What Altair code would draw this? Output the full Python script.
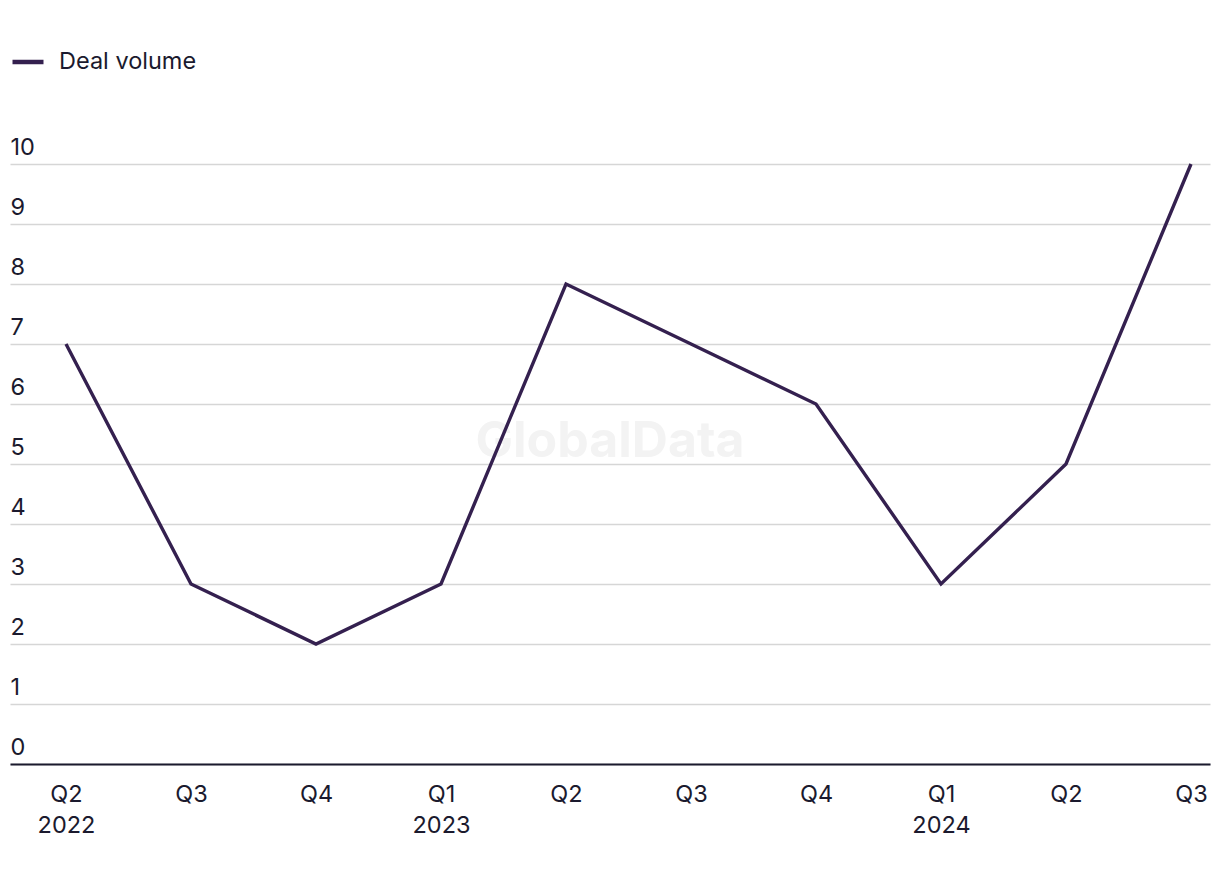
import json
import altair as alt
import pandas as pd

periods = ["2022Q2", "2022Q3", "2022Q4", "2023Q1", "2023Q2",
           "2023Q3", "2023Q4", "2024Q1", "2024Q2", "2024Q3"]
tick_labels = ["Q2|2022", "Q3", "Q4", "Q1|2023", "Q2",
               "Q3", "Q4", "Q1|2024", "Q2", "Q3"]
deal_volume = [7, 3, 2, 3, 8, 7, 6, 3, 5, 10]
series_name = "Deal volume"

df = pd.DataFrame({
    "idx": list(range(len(periods))),
    "period": periods,
    "value": deal_volume,
    "series": series_name,
})

label_expr = f"split({json.dumps(tick_labels)}[datum.value], '|')"

FONT = "Inter"
TEXT = "#1b1a2e"
LINE = "#34204f"
FS = 23.5

x = alt.X(
    "idx:Q",
    scale=alt.Scale(domain=[-0.448, 9.152], nice=False, zero=False),
    axis=alt.Axis(
        title=None, values=list(range(len(periods))), labelExpr=label_expr,
        ticks=False, tickSize=0, domain=True, domainColor=TEXT, domainWidth=2,
        labelFontSize=FS, labelColor=TEXT, labelFont=FONT, labelPadding=18,
        labelLineHeight=31, labelAngle=0, labelAlign="center",
        labelFlush=False, labelOverlap=False, grid=False,
    ),
)
y = alt.Y(
    "value:Q",
    scale=alt.Scale(domain=[0, 10], nice=False),
    axis=alt.Axis(
        title=None, values=list(range(0, 11)), ticks=False, tickSize=0,
        domain=False, grid=True, gridColor="#d6d6d6", gridWidth=1.5,
        labelAlign="left", labelBaseline="alphabetic", labelPadding=0,
        labelOffset=-10, labelFontSize=FS, labelColor=TEXT, labelFont=FONT,
    ),
)

line = alt.Chart(df).mark_line(strokeWidth=3.4).encode(
    x=x,
    y=y,
    color=alt.Color(
        "series:N",
        scale=alt.Scale(domain=[series_name], range=[LINE]),
        legend=alt.Legend(
            title=None, orient="none", legendX=0, legendY=-120,
            symbolType="stroke", symbolStrokeWidth=4.5, symbolSize=961,
            labelFontSize=FS, labelColor=TEXT, labelFont=FONT,
            labelOffset=13, padding=0,
        ),
    ),
)

watermark = alt.Chart(pd.DataFrame({"t": ["GlobalData"]})).mark_text(
    font=FONT, fontSize=50, fontWeight="bold", color="#f3f3f3",
    align="center", baseline="middle",
).encode(text="t:N", x=alt.value(600), y=alt.value(278))

chart = alt.layer(watermark, line).properties(
    width=1200, height=600,
    autosize=alt.AutoSizeParams(type="none"),
    padding={"left": 2, "top": 156, "right": 2, "bottom": 90},
).configure(font=FONT).configure_view(stroke=None)

chart.save("out.html", embed_options={"renderer": "svg", "actions": False})
